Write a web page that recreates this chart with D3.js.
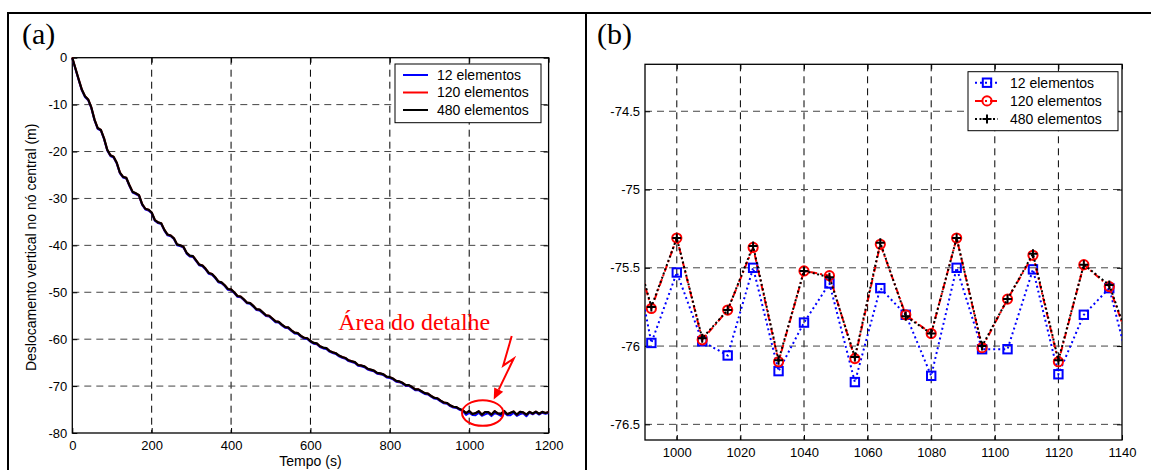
<!DOCTYPE html>
<html>
<head>
  <title>Deslocamento vertical no nó central</title>
  <script src="https://cdn.jsdelivr.net/npm/d3@7"></script>
  <style type="text/css">
    body { margin: 0; background: #fff; }
    text { font-family: Arial, "Liberation Sans", Helvetica, sans-serif; fill: #000; }
    .tick text { font-size: 13px; }
    .tick line, .domain { stroke: #000; }
    .grid line { stroke: #000; stroke-width: 1; stroke-dasharray: 7,5; }
    .grid line.h { stroke: #444; }
    .legend text { font-size: 14px; }
  </style>
</head>
<body>
<div id="chartArea"></div>
<script type="text/javascript">
  // ---- data ----
  let seriesNames = ['12 elementos', '120 elementos', '480 elementos'];

  // (a) displacement every 8 s, 0..976 s (common to the three meshes)
  let deslocInicio = [
    0, -2.3, -4.6, -6.8, -8.2, -8.9, -10.6, -13.2, -15.0, -15.4,
    -17.2, -19.6, -20.8, -21.1, -22.4, -24.5, -25.4, -25.6, -27.2, -28.6,
    -28.9, -29.3, -31.2, -32.2, -32.4, -33.0, -34.6, -35.1, -35.3, -36.7,
    -37.7, -37.9, -38.5, -39.8, -40.0, -40.3, -41.6, -42.2, -42.3, -43.2,
    -44.1, -44.3, -45.0, -45.9, -46.1, -46.8, -47.7, -47.9, -48.5, -49.3,
    -49.4, -50.0, -50.8, -50.9, -51.5, -52.2, -52.3, -52.9, -53.6, -53.7,
    -54.3, -54.9, -55.0, -55.6, -56.2, -56.3, -56.9, -57.4, -57.5, -58.1,
    -58.6, -58.7, -59.3, -59.7, -59.8, -60.4, -60.8, -60.9, -61.5, -61.8,
    -61.9, -62.5, -62.8, -63.0, -63.5, -63.8, -64.0, -64.5, -64.7, -64.9,
    -65.5, -65.6, -65.8, -66.3, -66.5, -66.7, -67.2, -67.3, -67.5, -68.0,
    -68.1, -68.4, -68.9, -69.0, -69.3, -69.8, -69.8, -70.2, -70.7, -70.7,
    -71.1, -71.5, -71.6, -72.1, -72.5, -72.6, -73.1, -73.5, -73.6, -74.1,
    -74.4, -74.5, -74.9
  ];

  // detail 984..1144 s, every 8 s
  let detalhe12 = [-75.14, -75.98, -75.53, -75.97, -76.06, -75.50, -76.16, -75.85, -75.60, -76.23,
    -75.63, -75.80, -76.19, -75.50, -76.02, -76.02, -75.51, -76.18, -75.80, -75.63, -76.27];
  let detalhe120 = [-75.17, -75.76, -75.31, -75.96, -75.77, -75.37, -76.10, -75.52, -75.55, -76.08,
    -75.35, -75.80, -75.92, -75.31, -76.01, -75.70, -75.42, -76.10, -75.48, -75.62, -76.08];
  let detalhe480 = [-75.16, -75.75, -75.31, -75.95, -75.77, -75.36, -76.09, -75.52, -75.56, -76.07,
    -75.34, -75.81, -75.92, -75.31, -76.00, -75.70, -75.41, -76.09, -75.48, -75.61, -76.07];

  // end of the run 1152..1200 s
  let deslocFim = [-75.5, -75.85, -75.45, -75.9, -75.5, -75.75, -75.55];

  let passo = 8;
  let tInicio = 984;

  let ticksXa = [0, 200, 400, 600, 800, 1000, 1200];
  let ticksYa = [0, -10, -20, -30, -40, -50, -60, -70, -80];
  let ticksXb = [1000, 1020, 1040, 1060, 1080, 1100, 1120, 1140];
  let ticksYb = [-74.5, -75, -75.5, -76, -76.5];

  let colors = ['#0000ff', '#ff0000', '#000000'];

  // ---- build point lists ----
  let toPoints = (vals, t0) => vals.map((v, i) => ({ t: t0 + i * passo, v: v }));
  let pontosDetalhe = [detalhe12, detalhe120, detalhe480].map(d => toPoints(d, tInicio));
  let fullSeries = [detalhe12, detalhe120, detalhe480].map(d =>
    toPoints(deslocInicio.concat(d, deslocFim), 0)
  );

  let svg = d3.select('#chartArea').append('svg')
    .attr('width', 1151)
    .attr('height', 470);

  svg.append('rect').attr('width', 1151).attr('height', 470).attr('fill', '#fff');

  // outer frame
  svg.append('path')
    .attr('d', 'M8,470 V13 H1151 M586,13 V470')
    .attr('fill', 'none')
    .attr('stroke', '#000')
    .attr('stroke-width', 2);

  svg.append('text').attr('x', 22).attr('y', 44)
    .style('font-family', '"Liberation Serif", "Times New Roman", serif')
    .style('font-size', '30px').text('(a)');
  svg.append('text').attr('x', 597).attr('y', 44)
    .style('font-family', '"Liberation Serif", "Times New Roman", serif')
    .style('font-size', '30px').text('(b)');

  function drawFrame(g, x, y, xt, yt) {
    let w = x.range()[1], h = y.range()[1];
    let gx = g.append('g').attr('class', 'grid');
    gx.selectAll('line.v').data(xt.filter(d => x(d) > 1 && x(d) < w - 1)).enter()
      .append('line').attr('class', 'v')
      .attr('x1', d => x(d)).attr('x2', d => x(d)).attr('y1', 0).attr('y2', h);
    gx.selectAll('line.h').data(yt.filter(d => y(d) > 1 && y(d) < h - 1)).enter()
      .append('line').attr('class', 'h')
      .attr('y1', d => y(d)).attr('y2', d => y(d)).attr('x1', 0).attr('x2', w);

    g.append('g').attr('transform', `translate(0,${h})`)
      .call(d3.axisBottom(x).tickValues(xt).tickFormat(d => String(d))
        .tickSizeInner(-5).tickSizeOuter(0).tickPadding(8));
    g.append('g')
      .call(d3.axisLeft(y).tickValues(yt).tickFormat(d => String(d))
        .tickSizeInner(-5).tickSizeOuter(0).tickPadding(5));
    g.append('g')
      .call(d3.axisTop(x).tickValues(xt).tickFormat('').tickSizeInner(-5).tickSizeOuter(0));
    g.append('g').attr('transform', `translate(${w},0)`)
      .call(d3.axisRight(y).tickValues(yt).tickFormat('').tickSizeInner(-5).tickSizeOuter(0));
    g.selectAll('.domain').remove();
    g.append('rect').attr('width', w).attr('height', h)
      .attr('fill', 'none').attr('stroke', '#000').attr('stroke-width', 1.3);
  }

  // ---- panel (a) ----
  let wa = 476.3, ha = 375.3;
  let ga = svg.append('g').attr('transform', 'translate(72.3,57.7)');
  let xa = d3.scaleLinear().domain([0, 1200]).range([0, wa]);
  let ya = d3.scaleLinear().domain([0, -80]).range([0, ha]);

  drawFrame(ga, xa, ya, ticksXa, ticksYa);

  let lineA = d3.line().x(d => xa(d.t)).y(d => ya(d.v));
  ga.selectAll('path.serie').data(fullSeries).enter()
    .append('path').attr('class', 'serie')
    .attr('d', lineA)
    .attr('fill', 'none')
    .attr('stroke', (d, i) => colors[i])
    .attr('stroke-width', (d, i) => i == 2 ? 2.2 : 2)
    .attr('stroke-linejoin', 'round')
    .attr('transform', (d, i) => i == 0 ? 'translate(0,0.8)' : null);

  // legend (a)
  let la = ga.append('g').attr('class', 'legend').attr('transform', `translate(${wa - 153.6},6.3)`);
  la.append('rect').attr('width', 146).attr('height', 58.7)
    .attr('fill', '#fff').attr('stroke', '#000').attr('stroke-width', 1);
  seriesNames.forEach((name, i) => {
    let yy = 11 + i * 17.5;
    la.append('line').attr('x1', 8).attr('x2', 33).attr('y1', yy).attr('y2', yy)
      .attr('stroke', colors[i]).attr('stroke-width', 2);
    la.append('text').attr('x', 42).attr('y', yy).attr('dy', '0.35em').text(name);
  });

  ga.append('text').attr('x', wa / 2).attr('y', 408.5).attr('text-anchor', 'middle')
    .style('font-size', '14px').text('Tempo (s)');
  ga.append('text').attr('transform', `translate(-36,${ha / 2 + 2}) rotate(-90)`)
    .attr('text-anchor', 'middle').style('font-size', '14px')
    .text('Deslocamento vertical no nó central (m)');

  // annotation
  let cx = xa(1034), cy = ya(-75.75);
  ga.append('ellipse').attr('cx', cx).attr('cy', cy).attr('rx', 20.7).attr('ry', 12.8)
    .attr('fill', 'none').attr('stroke', '#ff0000').attr('stroke-width', 2);
  ga.append('text').attr('x', cx + 7.5).attr('y', cy - 83).attr('text-anchor', 'end')
    .style('font-family', '"Liberation Serif", "Times New Roman", serif')
    .style('font-size', '24px').style('fill', '#ff0000').text('Área do detalhe');
  let tip = [cx + 11, cy - 13.6];
  ga.append('path')
    .attr('d', `M${cx + 29},${cy - 77} L${cx + 20.5},${cy - 47.5} L${cx + 31},${cy - 54.5} L${tip[0] + 5},${tip[1] - 9.8}`)
    .attr('fill', 'none').attr('stroke', '#ff0000').attr('stroke-width', 2)
    .attr('stroke-linejoin', 'miter');
  ga.append('path')
    .attr('d', `M${tip[0]},${tip[1]} L${tip[0] + 9.5},${tip[1] - 7.6} L${tip[0] + 0.5},${tip[1] - 12}Z`)
    .attr('fill', '#ff0000');

  // ---- panel (b) ----
  let wb = 477, hb = 375.7;
  let gb = svg.append('g').attr('transform', 'translate(645,64.3)');
  let xb = d3.scaleLinear().domain([990, 1140]).range([0, wb]);
  let yb = d3.scaleLinear().domain([-74.2, -76.6]).range([0, hb]);

  drawFrame(gb, xb, yb, ticksXb, ticksYb);

  gb.append('clipPath').attr('id', 'clipB')
    .append('rect').attr('width', wb).attr('height', hb);

  let lineB = d3.line().x(d => xb(d.t)).y(d => yb(d.v));
  let dashes = ['2,3', '7,3,2,3', '2,2.5'];
  let series = gb.append('g').attr('clip-path', 'url(#clipB)');

  function marker(sel, kind, color) {
    if (kind == 0) {
      sel.append('rect').attr('x', -4.2).attr('y', -4.2).attr('width', 8.4).attr('height', 8.4)
        .attr('fill', 'none').attr('stroke', color).attr('stroke-width', 2);
    } else if (kind == 1) {
      sel.append('circle').attr('r', 4.6)
        .attr('fill', 'none').attr('stroke', color).attr('stroke-width', 2);
    } else {
      sel.append('path').attr('d', 'M-4.5,0H4.5M0,-4.5V4.5')
        .attr('stroke', color).attr('stroke-width', 2);
    }
  }

  pontosDetalhe.forEach((pts, i) => {
    series.append('path').datum(pts)
      .attr('d', lineB)
      .attr('fill', 'none')
      .attr('stroke', colors[i])
      .attr('stroke-width', 2)
      .attr('stroke-dasharray', dashes[i]);
    series.selectAll('g.m' + i).data(pts).enter()
      .append('g').attr('class', 'm' + i)
      .attr('transform', d => `translate(${xb(d.t)},${yb(d.v)})`)
      .each(function () { marker(d3.select(this), i, colors[i]); });
  });

  // legend (b)
  let lb = gb.append('g').attr('class', 'legend').attr('transform', `translate(${wb - 154},7.4)`);
  lb.append('rect').attr('width', 150).attr('height', 59)
    .attr('fill', '#fff').attr('stroke', '#000').attr('stroke-width', 1);
  seriesNames.forEach((name, i) => {
    let yy = 11 + i * 18.2;
    lb.append('line').attr('x1', 7).attr('x2', 30).attr('y1', yy).attr('y2', yy)
      .attr('stroke', colors[i]).attr('stroke-width', 2).attr('stroke-dasharray', dashes[i]);
    let m = lb.append('g').attr('transform', `translate(19,${yy})`);
    marker(m, i, colors[i]);
    lb.append('text').attr('x', 42).attr('y', yy).attr('dy', '0.35em').text(name);
  });
</script>
</body>
</html>
